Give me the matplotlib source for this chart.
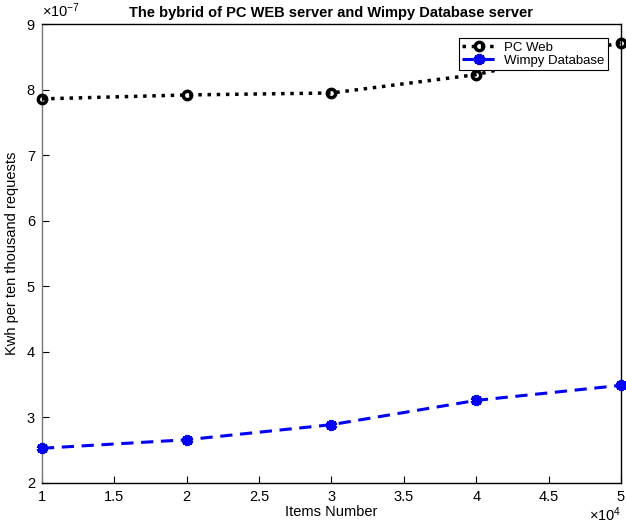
import matplotlib
matplotlib.use("Agg")
import matplotlib.pyplot as plt
from matplotlib.ticker import FuncFormatter

plt.rcParams['font.family'] = ['Liberation Sans', 'DejaVu Sans']
plt.rcParams['mathtext.default'] = 'regular'

items = [10000, 20000, 30000, 40000, 50000]
pc_web = [7.86e-7, 7.92e-7, 7.95e-7, 8.23e-7, 8.72e-7]
wimpy_db = [2.53e-7, 2.66e-7, 2.89e-7, 3.26e-7, 3.49e-7]

fig = plt.figure(figsize=(6.26, 5.25), dpi=100)
ax = fig.add_axes([0.067, 0.080, 0.925, 0.874])

ax.plot(items, pc_web, color='black', linestyle=':', linewidth=2.5,
        marker='o', markersize=6, markerfacecolor='none', markeredgewidth=2.5,
        label='PC Web', clip_on=False, zorder=3)
ax.plot(items, wimpy_db, color='blue', linestyle='--', linewidth=2.2, dashes=(4, 2.5),
        marker=(6, 2, 0), markersize=8, markeredgewidth=2.8,
        label='Wimpy Database', clip_on=False, zorder=3)

ax.set_xlim(10000, 50000)
ax.set_ylim(2e-7, 9e-7)
ax.set_xticks([10000 + 5000 * i for i in range(9)])
ax.set_yticks([i * 1e-7 for i in range(2, 10)])
ax.xaxis.set_major_formatter(FuncFormatter(lambda v, p: '%g' % round(v / 1e4, 2)))
ax.yaxis.set_major_formatter(FuncFormatter(lambda v, p: '%g' % round(v / 1e-7, 2)))
ax.tick_params(direction='in', length=5, labelsize=10.5, top=False, right=False, pad=5)

for s in ax.spines.values():
    s.set_linewidth(1.0)
ax.spines['left'].set_color('#777777')

ax.text(0.0, 1.008, r'$\times10^{-7}$', transform=ax.transAxes, fontsize=10.5,
        ha='left', va='bottom')
ax.text(1.0, -0.07, r'$\times10^{4}$', transform=ax.transAxes, fontsize=10.5,
        ha='right', va='center')

ax.set_title('The bybrid of PC WEB server and Wimpy Database server',
             fontsize=10.5, fontweight='bold', pad=5)
ax.set_xlabel('Items Number', fontsize=10.5, labelpad=1)
ax.set_ylabel('Kwh per ten thousand requests', fontsize=10.5, labelpad=6)

leg = ax.legend(loc='upper right', bbox_to_anchor=(0.982, 0.975), fontsize=9.5,
                frameon=True, fancybox=False, framealpha=1, borderpad=0.25,
                labelspacing=0.05, handlelength=2.6, handletextpad=0.6,
                borderaxespad=0.2)
leg.get_frame().set_edgecolor('black')
leg.get_frame().set_linewidth(0.8)

fig.savefig('out.png', dpi=100)
